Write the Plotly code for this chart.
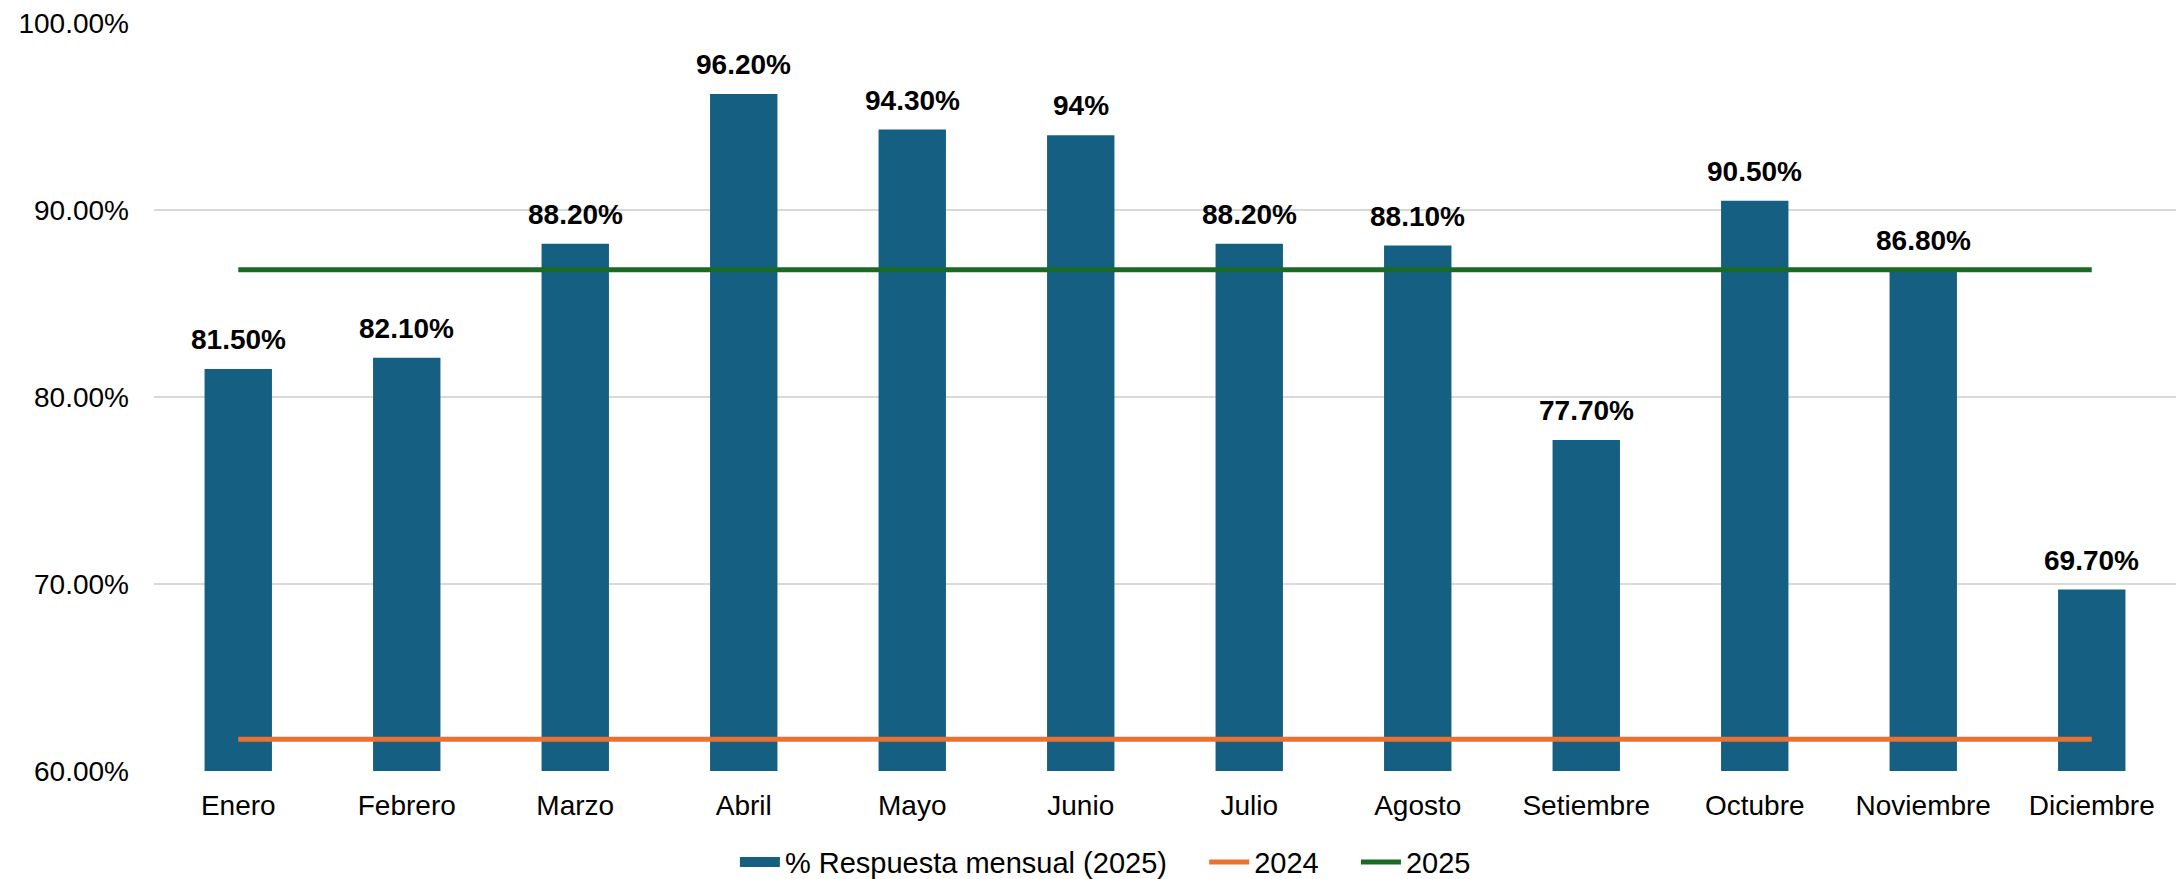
import plotly.graph_objects as go

months = ["Enero", "Febrero", "Marzo", "Abril", "Mayo", "Junio", "Julio",
          "Agosto", "Setiembre", "Octubre", "Noviembre", "Diciembre"]
respuesta_2025 = [81.5, 82.1, 88.2, 96.2, 94.3, 94.0, 88.2, 88.1, 77.7, 90.5, 86.8, 69.7]
respuesta_labels = ["81.50%", "82.10%", "88.20%", "96.20%", "94.30%", "94%", "88.20%",
                    "88.10%", "77.70%", "90.50%", "86.80%", "69.70%"]
linea_2024 = [61.7, 61.7, 61.7, 61.7, 61.7, 61.7, 61.7, 61.7, 61.7, 61.7, 61.7, 61.7]
linea_2025 = [86.8, 86.8, 86.8, 86.8, 86.8, 86.8, 86.8, 86.8, 86.8, 86.8, 86.8, 86.8]
y_ticks = [60, 70, 80, 90, 100]

FONT = "Liberation Sans, Arial, sans-serif"
BAR_COLOR = "#156082"
GAP = "\u00a0" * 4

fig = go.Figure()
fig.add_trace(go.Bar(
    x=months, y=respuesta_2025, name="% Respuesta mensual (2025)",
    marker=dict(color=BAR_COLOR, line=dict(width=0)), width=0.4,
    showlegend=False, legendgroup="bar",
))
# legend entry for the bars, drawn as a wide block like the reference
fig.add_trace(go.Scatter(
    x=[None], y=[None], name="% Respuesta mensual (2025)" + GAP, mode="lines",
    line=dict(color=BAR_COLOR, width=20), legendgroup="bar",
))
fig.add_trace(go.Scatter(
    x=months, y=linea_2024, name="2024" + GAP, mode="lines",
    line=dict(color="#E97132", width=5),
))
fig.add_trace(go.Scatter(
    x=months, y=linea_2025, name="2025", mode="lines",
    line=dict(color="#196B24", width=5),
))

for m, v, lab in zip(months, respuesta_2025, respuesta_labels):
    fig.add_annotation(x=m, y=v, text=lab, showarrow=False,
                       xanchor="center", yanchor="bottom", yshift=12,
                       font=dict(family=FONT, size=28, color="#000000", weight="bold"))

fig.update_layout(
    width=2176, height=879,
    margin=dict(l=154, r=0, t=23, b=108, autoexpand=False),
    paper_bgcolor="white", plot_bgcolor="white",
    font=dict(family=FONT, size=28, color="#000000"),
    showlegend=True,
    legend=dict(orientation="h", xref="container", yref="paper",
                x=0.508, xanchor="center", y=-0.122, yanchor="middle",
                font=dict(family=FONT, size=29, color="#000000"),
                itemwidth=40, traceorder="normal"),
)
fig.update_xaxes(showgrid=False, showline=False, ticks="", automargin=False,
                 tickfont=dict(family=FONT, size=28, color="#000000"),
                 ticklabelstandoff=15)
fig.update_yaxes(range=[60, 100], tickvals=y_ticks, automargin=False,
                 ticktext=[f"{v:.2f}%" for v in y_ticks],
                 showgrid=True, gridcolor="#D9D9D9", gridwidth=1.5,
                 zeroline=False, showline=False, ticks="",
                 tickfont=dict(family=FONT, size=28, color="#000000"),
                 ticklabelstandoff=24)

fig.write_html("out.html", config={"displayModeBar": False},
               post_script="document.body.style.margin='0';document.body.style.overflow='hidden';")
